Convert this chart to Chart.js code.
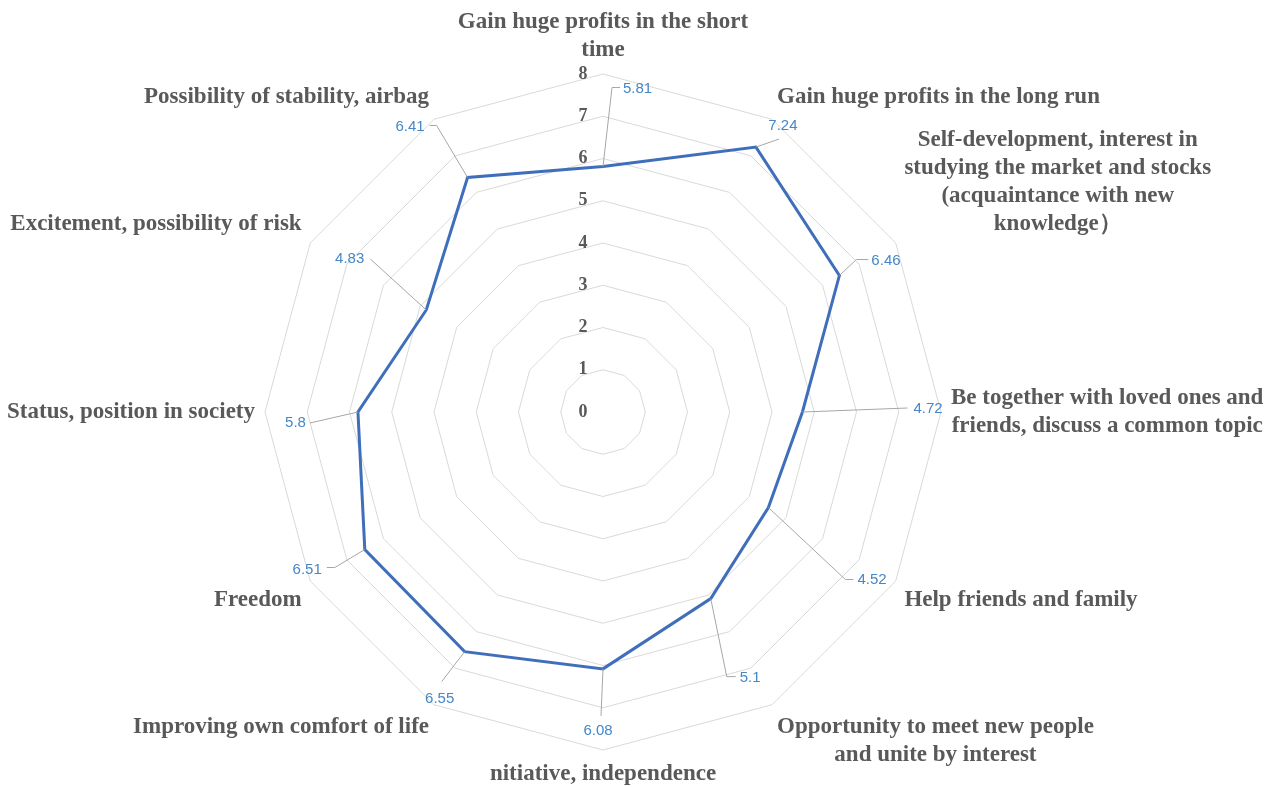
<!DOCTYPE html>
<html>
<head>
<meta charset="utf-8">
<script src="https://cdn.jsdelivr.net/npm/chart.js@4.4.1/dist/chart.umd.min.js"></script>
<style>
  html, body { margin: 0; padding: 0; background: #ffffff; }
  #wrap { width: 1276px; height: 787px; position: relative; }
</style>
</head>
<body>
<div id="wrap"><canvas id="c"></canvas></div>
<script>
// Motives, one spoke each, clockwise from the top
const categories = [
  ['Gain huge profits in the short', 'time'],
  ['Gain huge profits in the long run'],
  ['Self-development, interest in', 'studying the market and stocks', '(acquaintance with new', 'knowledge）'],
  ['Be together with loved ones and', 'friends, discuss a common topic'],
  ['Help friends and family'],
  ['Opportunity to meet new people', 'and unite by interest'],
  ['nitiative, independence'],
  ['Improving own comfort of life'],
  ['Freedom'],
  ['Status, position in society'],
  ['Excitement, possibility of risk'],
  ['Possibility of stability, airbag']
];

// Average score per motive
const scores = [5.81, 7.24, 6.46, 4.72, 4.52, 5.1, 6.08, 6.55, 6.51, 5.8, 4.83, 6.41];

// Radial axis labels
const tickValues = [0, 1, 2, 3, 4, 5, 6, 7, 8];

// Where each value callout sits relative to its point, and the bends of its leader line
const callouts = [
  { lx: 20,  ly: -78, align: 'left',   path: [[9, -79], [17, -79]] },
  { lx: 27,  ly: -21, align: 'center', path: [[23, -8]] },
  { lx: 32,  ly: -15, align: 'left',   path: [[17, -16], [29, -16]] },
  { lx: 111, ly: -3,  align: 'left',   path: [[105, -4]] },
  { lx: 89,  ly: 72,  align: 'left',   path: [[77, 72], [85, 72]] },
  { lx: 29,  ly: 79,  align: 'left',   path: [[16, 78], [25, 78]] },
  { lx: -5,  ly: 62,  align: 'center', path: [[-2, 47]] },
  { lx: -25, ly: 47,  align: 'center', path: [[-23, 30]] },
  { lx: -43, ly: 20,  align: 'right',  path: [[-30, 18], [-38, 18]] },
  { lx: -52, ly: 11,  align: 'right',  path: [[-48, 11]] },
  { lx: -62, ly: -51, align: 'right',  path: [[-56, -51]] },
  { lx: -43, ly: -51, align: 'right',  path: [[-31, -52], [-38, -52]] }
];

const LABEL_FONT = 'bold 23px "Liberation Serif", "DejaVu Serif", serif';
const LABEL_LINE = 28;
const LABEL_COLOR = '#595959';
const VALUE_FONT = '15px "Liberation Sans", "DejaVu Sans", sans-serif';
const VALUE_COLOR = '#4587C7';
const LEADER_COLOR = '#a6a6a6';

// Draws tick numbers, spoke titles and value callouts on top of the radar
const annotations = {
  id: 'annotations',
  afterDatasetsDraw(chart) {
    const ctx = chart.ctx;
    const r = chart.scales.r;
    const meta = chart.getDatasetMeta(0);
    ctx.save();

    // tick numbers, just left of the top spoke
    ctx.font = 'bold 18px "Liberation Serif", "DejaVu Serif", serif';
    ctx.fillStyle = LABEL_COLOR;
    ctx.textAlign = 'center';
    ctx.textBaseline = 'middle';
    tickValues.forEach(v => {
      const y = r.yCenter - r.getDistanceFromCenterForValue(v);
      ctx.fillText(String(v), r.xCenter - 20, y);
    });

    // spoke titles, outside the outer ring
    ctx.font = LABEL_FONT;
    ctx.fillStyle = LABEL_COLOR;
    categories.forEach((lines, i) => {
      const p = r.getPointPosition(i, r.drawingArea + 10);
      const deg = Math.round((r.getIndexAngle(i) * 180 / Math.PI)) % 360;
      const w = Math.max(...lines.map(t => ctx.measureText(t).width));
      const h = lines.length * LABEL_LINE;
      let left;
      if (deg === 0 || deg === 180) left = p.x - w / 2;
      else if (deg < 180) left = p.x;
      else left = p.x - w;
      let top;
      if (deg === 90 || deg === 270) top = p.y - h / 2;
      else if (deg > 270 || deg < 90) top = p.y - h;
      else top = p.y;
      ctx.textAlign = 'center';
      ctx.textBaseline = 'middle';
      lines.forEach((t, k) => {
        ctx.fillText(t, left + w / 2, top + LABEL_LINE * (k + 0.5));
      });
    });

    // value callouts with leader lines
    ctx.font = VALUE_FONT;
    meta.data.forEach((pt, i) => {
      const c = callouts[i];
      ctx.strokeStyle = LEADER_COLOR;
      ctx.lineWidth = 1;
      ctx.beginPath();
      ctx.moveTo(pt.x, pt.y);
      c.path.forEach(([dx, dy]) => ctx.lineTo(pt.x + dx, pt.y + dy));
      ctx.stroke();
      ctx.fillStyle = VALUE_COLOR;
      ctx.textAlign = c.align;
      ctx.textBaseline = 'middle';
      ctx.fillText(String(scores[i]), pt.x + c.lx, pt.y + c.ly);
    });

    ctx.restore();
  }
};

new Chart(document.getElementById('c'), {
  type: 'radar',
  data: {
    labels: categories,
    datasets: [{
      data: scores,
      borderColor: '#3F6FBA',
      borderWidth: 3,
      backgroundColor: 'rgba(0,0,0,0)',
      fill: false,
      pointRadius: 0,
      pointHoverRadius: 0,
      tension: 0
    }]
  },
  options: {
    responsive: true,
    maintainAspectRatio: false,
    animation: false,
    layout: { padding: { left: 265, right: 335, top: 74, bottom: 37 } },
    plugins: { legend: { display: false }, tooltip: { enabled: false } },
    scales: {
      r: {
        min: 0,
        max: 8,
        ticks: { stepSize: 1, display: false },
        grid: { color: '#d9d9d9', lineWidth: 1 },
        angleLines: { display: false },
        pointLabels: { display: false }
      }
    }
  },
  plugins: [annotations]
});
</script>
</body>
</html>
